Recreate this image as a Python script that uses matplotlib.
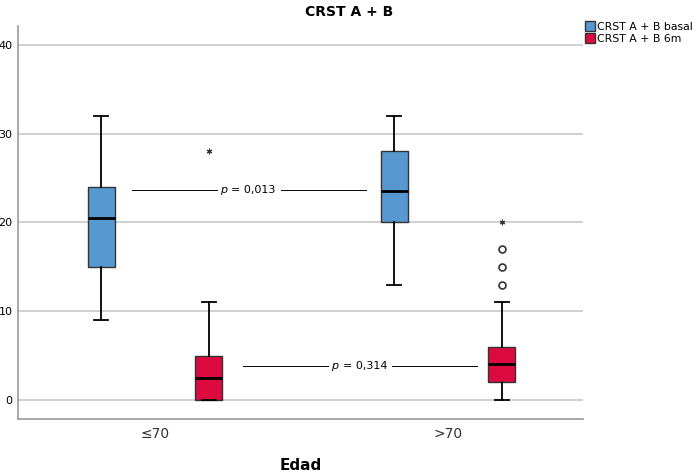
import numpy as np
import matplotlib.pyplot as plt
from matplotlib.patches import Patch

# Boxplot summary values (CRST A + B by age group)
groups = ['≤70', '>70']
series = ['CRST A + B basal', 'CRST A + B 6m']
colors = ['#5898D1', '#DC0A3F']

whislo = [[9, 13], [0, 0]]
q1 = [[15, 20], [0, 2]]
med = [[20.5, 23.5], [2.5, 4]]
q3 = [[24, 28], [5, 6]]
whishi = [[32, 32], [11, 11]]

# outliers: (series, group, value)
circles = [(1, 1, 13), (1, 1, 15), (1, 1, 17)]
stars = [(1, 0, 28), (1, 1, 20)]

# p-value annotations: (y level, text, x from, x to)
pvals = [(23.7, '0,013', -0.08, 0.72), (3.8, '0,314', 0.30, 1.10)]

offset = 0.184
width = 0.092

fig = plt.figure(figsize=(6.98, 4.74), dpi=100)
ax = fig.add_axes([0.026, 0.116, 0.809, 0.829])

for s in range(2):
    stats = []
    for g in range(2):
        stats.append(dict(med=med[s][g], q1=q1[s][g], q3=q3[s][g],
                          whislo=whislo[s][g], whishi=whishi[s][g], fliers=[]))
    pos = [g + (offset if s else -offset) for g in range(2)]
    ax.bxp(stats, positions=pos, widths=width, patch_artist=True, showfliers=False,
           boxprops=dict(facecolor=colors[s], edgecolor='#333333', linewidth=1.0),
           medianprops=dict(color='black', linewidth=2),
           whiskerprops=dict(color='black', linewidth=1.3),
           capprops=dict(color='black', linewidth=1.3),
           capwidths=width * 0.5, zorder=3)

for s, g, v in circles:
    x = g + (offset if s else -offset)
    ax.plot(x, v, 'o', mfc='white', mec='#333333', ms=5, mew=1.2, zorder=4)
for s, g, v in stars:
    x = g + (offset if s else -offset)
    ax.plot(x, v, marker=(6, 2, 0), color='#333333', ms=4, mew=0.8, zorder=4)

for y, txt, x0, x1 in pvals:
    xm = (x0 + x1) / 2
    ax.plot([x0, xm - 0.11], [y, y], color='black', lw=0.7, zorder=2)
    ax.plot([xm + 0.11, x1], [y, y], color='black', lw=0.7, zorder=2)
    ax.annotate('p', (xm, y), xytext=(-15.5, 0), textcoords='offset points',
                ha='right', va='center', fontsize=8, style='italic')
    ax.annotate('= ' + txt, (xm, y), xytext=(-12.5, 0), textcoords='offset points',
                ha='left', va='center', fontsize=8)

ax.set_xlim(-0.467, 1.46)
ax.set_ylim(-2.14, 42.1)
ax.set_yticks([0, 10, 20, 30, 40])
ax.set_xticks([0, 1])
ax.set_xticklabels(groups, fontsize=10, color='#333333')
ax.tick_params(axis='y', labelsize=8, length=0, pad=4)
ax.tick_params(axis='x', length=0, pad=6)
ax.yaxis.grid(True, color='#c8c8c8', lw=1.2)
ax.set_axisbelow(True)
for sp in ['top', 'right']:
    ax.spines[sp].set_visible(False)
for sp in ['left', 'bottom']:
    ax.spines[sp].set_color('#999999')
    ax.spines[sp].set_linewidth(1.2)

ax.set_xlabel('Edad', fontsize=11, fontweight='bold', labelpad=12)
fig.text(0.5, 0.975, 'CRST A + B', ha='center', va='center', fontsize=10,
         fontweight='bold')

handles = [Patch(facecolor=colors[i], edgecolor='#333333', label=series[i]) for i in range(2)]
fig.legend(handles=handles, loc='upper left', bbox_to_anchor=(0.838, 0.955),
           frameon=False, fontsize=7.8, handlelength=0.9, handleheight=1.0,
           handletextpad=0.25, labelspacing=0.1, borderaxespad=0, borderpad=0)

fig.savefig('out.png', dpi=100)
